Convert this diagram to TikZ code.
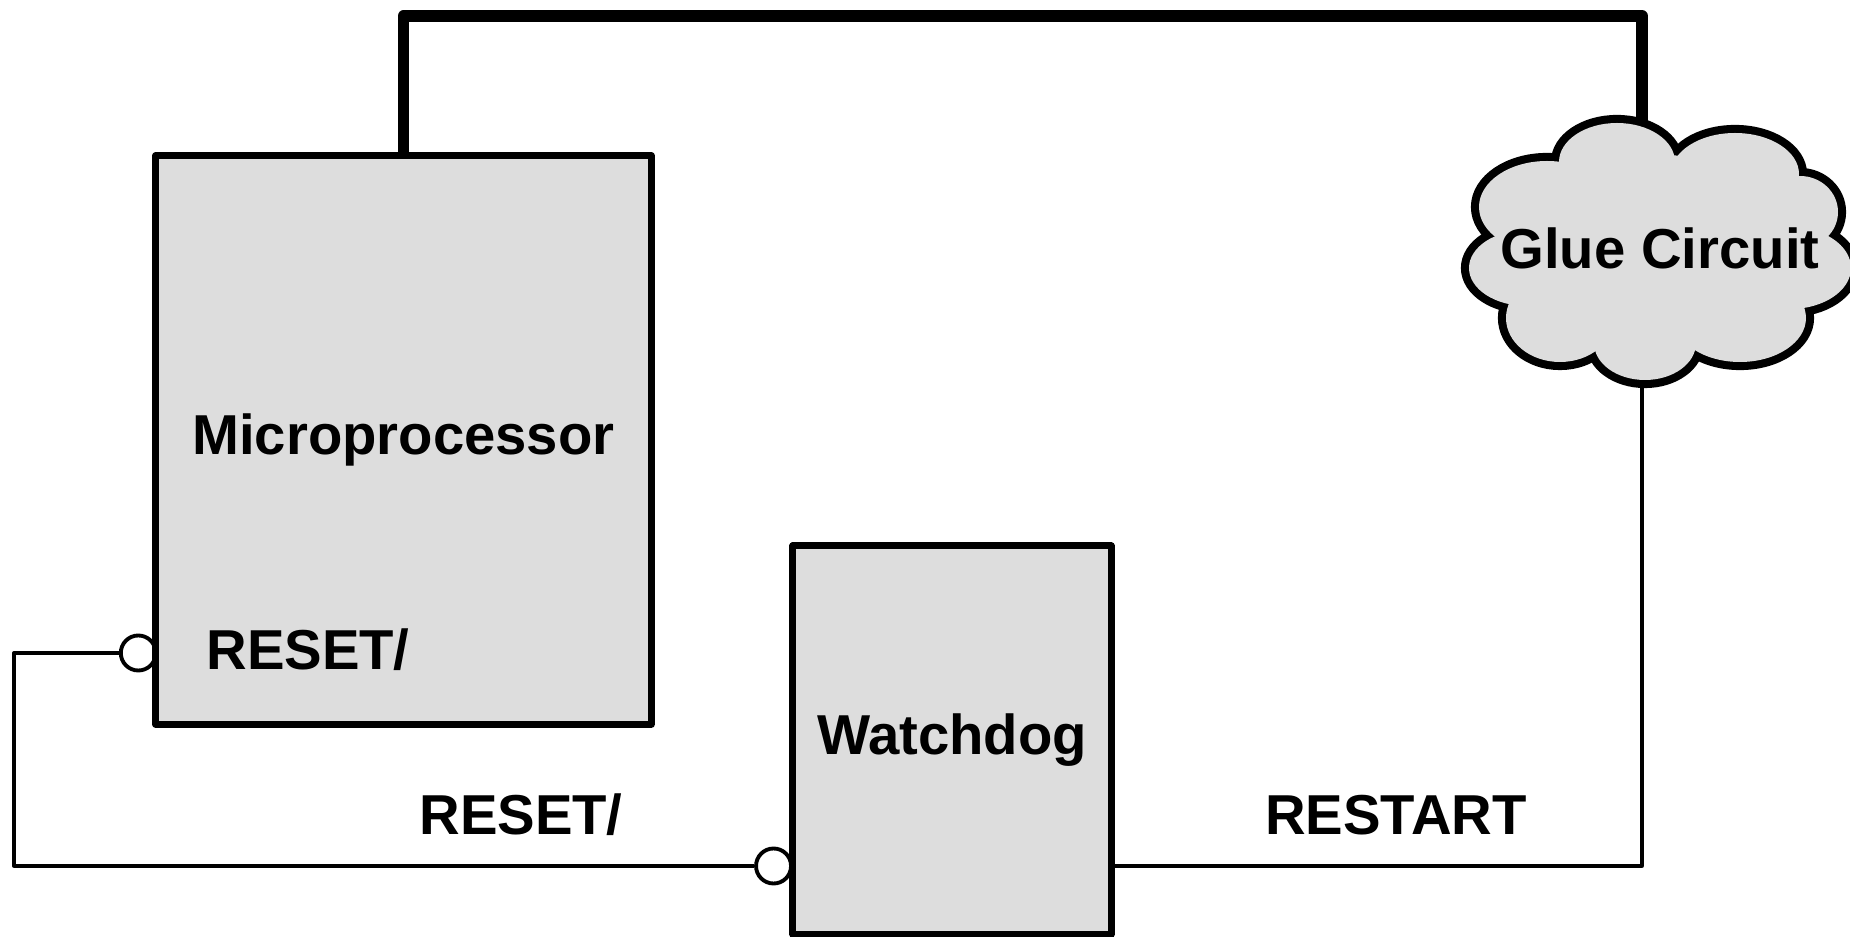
\documentclass[tikz,border=0pt]{standalone}
\usepackage{fontspec}
\setmainfont{Liberation Sans}
\definecolor{boxgray}{HTML}{DDDDDD}
\begin{document}
\begin{tikzpicture}[x=0.01cm, y=-0.01cm, line join=round,
  block/.style={draw, line width=2pt, fill=boxgray, inner sep=0pt,
    font=\bfseries\fontsize{16}{19}\selectfont},
  lbl/.style={font=\bfseries\fontsize{16}{19}\selectfont, anchor=base, inner sep=0pt},
  wire/.style={line width=0.95pt},
  bus/.style={line width=3.3pt, line cap=round},
  bubble/.style={circle, draw, line width=1.1pt, fill=white, inner sep=0pt, minimum size=0.35cm}]
\useasboundingbox (0,0) rectangle (1850,937);

% helper rails
\coordinate (top) at (0,16);
\coordinate (lx) at (14,0);
\coordinate (rail) at (0,866);
\coordinate (gtop) at (1642,150);
\coordinate (gbot) at (1642,360);

% bubbles sit under the block outlines
\path (403.5,440) coordinate (mpc) (952,740) coordinate (wdc);
\path (156,653) coordinate (mpin) (793,866) coordinate (wdin);
\node[bubble, anchor=east] (b1) at ([xshift=0.5pt]mpin) {};
\node[bubble, anchor=east] (b2) at (wdin) {};

% blocks
\node[block, minimum width=4.95cm, minimum height=5.68cm] (mp) at (mpc) {Microprocessor};
\node[block, minimum width=3.18cm, minimum height=3.88cm] (wd) at (wdc) {Watchdog};

% signal wires
\draw[wire] (b1.west) -- (b1.west -| lx) |- (b2.west);
\draw[wire] (wd.east |- rail) -| (gbot);

% bus from the processor to the glue logic
\draw[bus] (mp.north) -- (mp.north |- top) -| (gtop);

% glue circuit cloud: stroked lobes, then filled over to keep only the outline
\def\lobes{1617/162/58/39, 1735/174/64/41, 1800/212/38/36, 1790/268/61/41,
  1740/318/66/44, 1645/343/51/37, 1560/318/54/44, 1527/268/58/38,
  1547/207/68/46, 1650/250/146/96}
\foreach \cx/\cy/\rx/\ry in \lobes
  \draw[line width=4.6pt] (\cx,\cy) ellipse [x radius=\rx, y radius=\ry];
\foreach \cx/\cy/\rx/\ry in \lobes
  \fill[boxgray] (\cx,\cy) ellipse [x radius=\rx, y radius=\ry];

% labels
\node[lbl] (glue) at (1660,269) {Glue Circuit};
\node[lbl] (rin) at (308,670) {RESET/};
\node[lbl] (rout) at (521,835) {RESET/};
\node[lbl] (rstart) at (1396,835) {RESTART};
\end{tikzpicture}
\end{document}
